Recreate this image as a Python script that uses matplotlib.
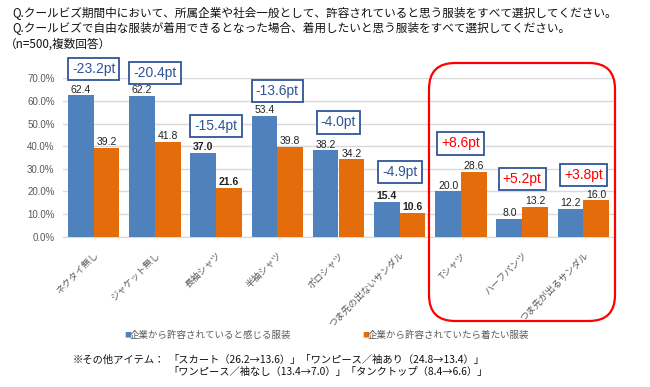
import matplotlib
matplotlib.use("Agg")
import matplotlib.pyplot as plt
import numpy as np
from matplotlib.patches import FancyBboxPatch

# ---- data ----
categories = ["ネクタイ無し", "ジャケット無し", "長袖シャツ", "半袖シャツ", "ポロシャツ",
              "つま先の出ないサンダル", "Tシャツ", "ハーフパンツ", "つま先が出るサンダル"]
allowed = [62.4, 62.2, 37.0, 53.4, 38.2, 15.4, 20.0, 8.0, 12.2]
want = [39.2, 41.8, 21.6, 39.8, 34.2, 10.6, 28.6, 13.2, 16.0]
diff_labels = ["-23.2pt", "-20.4pt", "-15.4pt", "-13.6pt", "-4.0pt", "-4.9pt",
               "+8.6pt", "+5.2pt", "+3.8pt"]
yticks = [0, 10, 20, 30, 40, 50, 60, 70]
series_names = ["企業から許容されていると感じる服装", "企業から許容されていたら着たい服装"]
title_lines = ["Q.クールビズ期間中において、所属企業や社会一般として、許容されていると思う服装をすべて選択してください。",
               "Q.クールビズで自由な服装が着用できるとなった場合、着用したいと思う服装をすべて選択してください。",
               "（n=500,複数回答）"]
foot_head = "※その他アイテム："
foot_lines = ["「スカート（26.2→13.6）」「ワンピース／袖あり（24.8→13.4）」",
              "「ワンピース／袖なし（13.4→7.0）」「タンクトップ（8.4→6.6）」"]

# ---- layout / style ----
box_y = [74.1, 72.3, 48.9, 64.4, 50.5, 28.6, 41.2, 25.5, 27.3]
bold_idx = {2, 5}
BLUE = "#4F81BD"
ORANGE = "#E46C0A"
DARKBLUE = "#2F5597"
RED = "#FF0000"
GREY = "#595959"
JP = ["Noto Sans CJK JP", "DejaVu Sans"]
NUM = ["Liberation Sans", "Noto Sans CJK JP"]

fig = plt.figure(figsize=(6.5, 3.87), dpi=100)
W, H = 650, 387
ax = fig.add_axes([63 / W, 1 - 236.7 / H, (614 - 63) / W, (236.7 - 78.3) / H])

x = np.arange(len(categories))
bw = 0.42
ax.bar(x - bw / 2, allowed, bw, color=BLUE, zorder=3)
ax.bar(x + bw / 2, want, bw, color=ORANGE, zorder=3)

ax.set_xlim(-0.5, len(categories) - 0.5)
ax.set_ylim(0, 70)
ax.set_yticks(yticks)
ax.set_yticklabels([f"{v:.1f}%" for v in yticks], family=NUM, fontsize=7, color=GREY)
ax.grid(axis="y", color="#D9D9D9", linewidth=1, zorder=0)
for s in ["top", "right", "left"]:
    ax.spines[s].set_visible(False)
ax.spines["bottom"].set_color("#D9D9D9")
ax.tick_params(axis="both", length=0, pad=6)
ax.set_xticks(x)
ax.set_xticklabels(categories, rotation=45, ha="right", va="top", rotation_mode="anchor",
                   family=JP, fontsize=6.7, color=GREY)
ax.tick_params(axis="x", pad=10)

for i in range(len(categories)):
    wt = "bold" if i in bold_idx else "normal"
    ax.text(x[i] - bw / 2, allowed[i] + 0.3, f"{allowed[i]:.1f}", ha="center", va="bottom",
            family=NUM, fontsize=7.5, weight=wt, color="#222222", zorder=5)
    ax.text(x[i] + bw / 2, want[i] + 0.3, f"{want[i]:.1f}", ha="center", va="bottom",
            family=NUM, fontsize=7.5, weight=wt, color="#222222", zorder=5)
    tc = RED if diff_labels[i].startswith("+") else DARKBLUE
    ax.text(x[i], box_y[i], diff_labels[i], ha="center", va="center", family=NUM,
            fontsize=10, color=tc, zorder=6,
            bbox=dict(boxstyle="square,pad=0.3", fc="white", ec=DARKBLUE, lw=1.3))

# red rounded frame
x0, x1, y0, y1 = 429, 615, 63, 321
frame = FancyBboxPatch((x0 / W, 1 - y1 / H), (x1 - x0) / W, (y1 - y0) / H,
                       boxstyle="round,pad=0,rounding_size=0.04",
                       transform=fig.transFigure, fill=False, ec=RED, lw=1.6,
                       mutation_aspect=W / H, zorder=10)
fig.patches.append(frame)

# titles
for k, line in enumerate(title_lines):
    fig.text(12 / W if k < 2 else 5 / W, 1 - (13 + 15.5 * k) / H, line, family=JP,
             fontsize=8.4, va="center", ha="left", color="#111111")

# legend
for (sx, name, col) in [(124, series_names[0], BLUE), (362, series_names[1], ORANGE)]:
    fig.text(sx / W, 1 - 335 / H, "■", family=JP, fontsize=5, color=col, va="center", ha="left")
    fig.text((sx + 6) / W, 1 - 335 / H, name, family=JP, fontsize=6.8, color=GREY,
             va="center", ha="left")

# footnote
fig.text(73 / W, 1 - 360 / H, foot_head, family=JP, fontsize=7.4, va="center", ha="left",
         color="#111111")
for k, line in enumerate(foot_lines):
    fig.text(168 / W, 1 - (360 + 11.5 * k) / H, line, family=JP, fontsize=7.4, va="center",
             ha="left", color="#111111")

fig.savefig("out.png", dpi=100)
